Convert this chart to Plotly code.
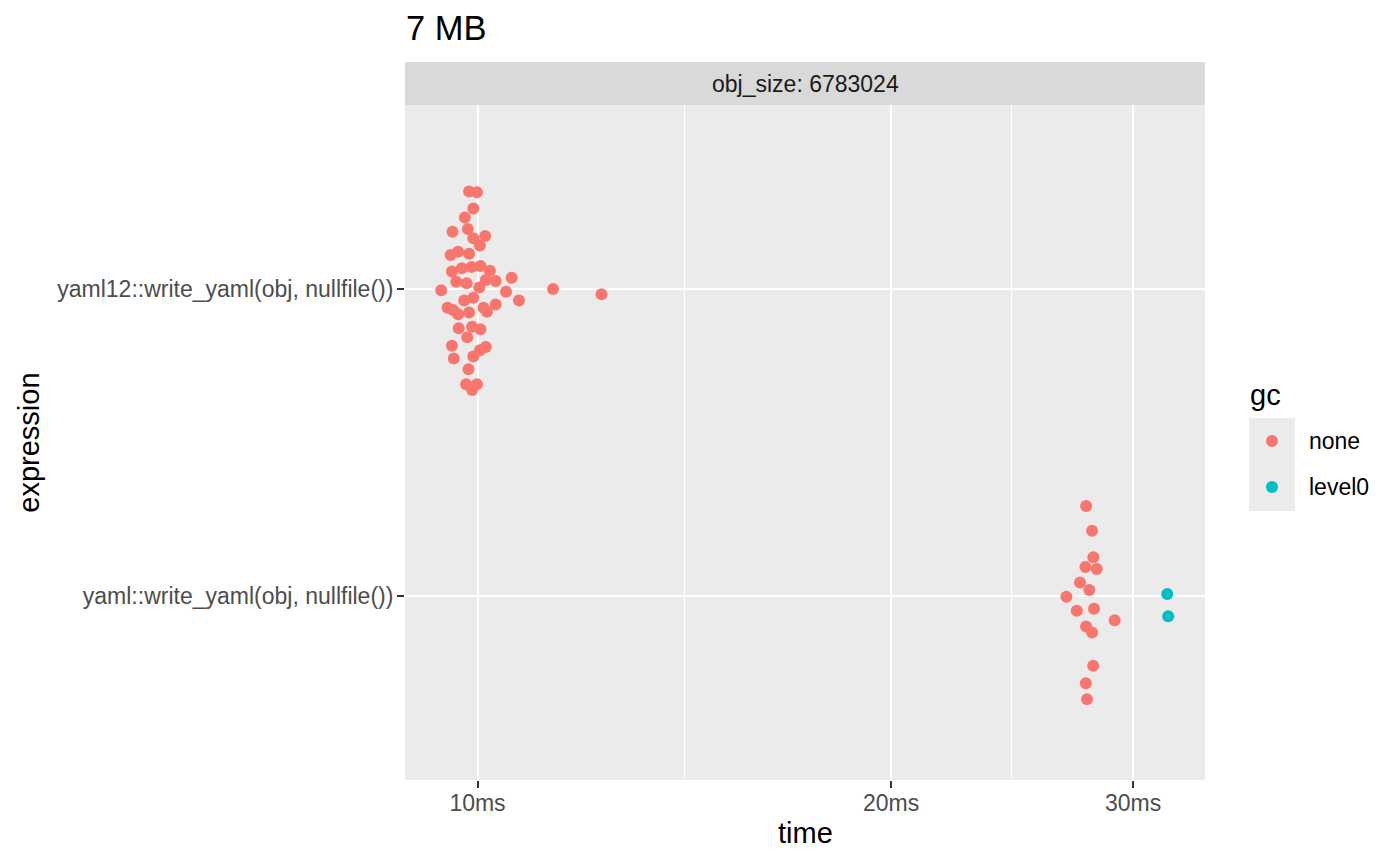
import plotly.graph_objects as go

# benchmark timings (ms) and beeswarm offsets
expressions = ["yaml::write_yaml(obj, nullfile())", "yaml12::write_yaml(obj, nullfile())"]
time_ticks = [10, 20, 30]
time_tick_labels = ["10ms", "20ms", "30ms"]
time_minor = [14.14, 24.49]

yaml12_time = [
    9.86, 9.99, 9.93, 9.79, 9.59, 9.84, 9.93, 10.13, 10.04, 9.56,
    9.68, 9.86, 9.58, 9.74, 9.90, 10.05, 10.21, 9.65, 9.82, 10.14,
    10.31, 10.59, 9.41, 10.03, 10.49, 11.35, 12.31, 9.93, 9.78, 10.72,
    10.31, 9.51, 9.60, 9.68, 9.86, 10.10, 10.16, 9.69, 9.91, 10.05,
    9.83, 9.58, 10.04, 10.14, 9.93, 9.61, 9.85, 9.81, 9.99, 9.91,
]
yaml12_offset = [
    0.318, 0.316, 0.263, 0.233, 0.187, 0.196, 0.166, 0.173, 0.142, 0.111,
    0.122, 0.115, 0.057, 0.068, 0.072, 0.075, 0.060, 0.024, 0.019, 0.030,
    0.026, 0.037, -0.004, 0.005, -0.009, 0.000, -0.017, -0.028, -0.037, -0.037,
    -0.050, -0.061, -0.068, -0.082, -0.076, -0.061, -0.074, -0.128, -0.123, -0.131,
    -0.157, -0.185, -0.199, -0.189, -0.220, -0.226, -0.261, -0.310, -0.310, -0.329,
]

yaml_none_time = [
    27.73, 28.01, 28.07, 27.70, 28.23, 27.45, 27.88, 26.83, 27.30, 28.10,
    29.09, 27.73, 28.01, 28.06, 27.72, 27.77,
]
yaml_none_offset = [
    0.293, 0.212, 0.126, 0.094, 0.088, 0.044, 0.019, -0.003, -0.048, -0.042,
    -0.079, -0.100, -0.119, -0.228, -0.285, -0.337,
]

yaml_level0_time = [31.77, 31.82]
yaml_level0_offset = [0.006, -0.066]

gc_levels = ["none", "level0"]
gc_colors = {"none": "#F8766D", "level0": "#00BFC4"}

FONT = "Liberation Sans, Arial, Helvetica, sans-serif"
SMALL = 23      # axis text / strip / legend labels
MEDIUM = 29     # axis titles, legend title
LARGE = 34.5    # plot title

# category 1 = yaml, 2 = yaml12 (bottom to top, like ggplot)
none_x = yaml12_time + yaml_none_time
none_y = [2 + o for o in yaml12_offset] + [1 + o for o in yaml_none_offset]
lvl_x = yaml_level0_time
lvl_y = [1 + o for o in yaml_level0_offset]

fig = go.Figure()
fig.add_trace(go.Scatter(
    x=none_x, y=none_y, mode="markers", name="none", showlegend=False,
    marker=dict(color=gc_colors["none"], size=12, line=dict(width=0)),
))
fig.add_trace(go.Scatter(
    x=lvl_x, y=lvl_y, mode="markers", name="level0", showlegend=False,
    marker=dict(color=gc_colors["level0"], size=12, line=dict(width=0)),
))

shapes = []
annotations = []

# facet strip
shapes.append(dict(type="rect", xref="paper", yref="paper", x0=0, x1=1, y0=1.0, y1=1.0637,
                   fillcolor="#D9D9D9", line=dict(width=0), layer="below"))
annotations.append(dict(text="obj_size: 6783024", xref="paper", yref="paper", x=0.5, y=1.0311,
                        showarrow=False, xanchor="center", yanchor="middle",
                        font=dict(family=FONT, size=SMALL, color="#1A1A1A")))

# title
annotations.append(dict(text="7 MB", xref="paper", yref="paper", x=0, y=1.114,
                        showarrow=False, xanchor="left", yanchor="middle", borderpad=0,
                        font=dict(family=FONT, size=LARGE, color="black")))

# axis titles
annotations.append(dict(text="time", xref="paper", yref="paper", x=0.5, y=-0.0785,
                        showarrow=False, xanchor="center", yanchor="middle",
                        font=dict(family=FONT, size=MEDIUM, color="black")))
annotations.append(dict(text="expression", xref="paper", yref="paper", x=-0.471, y=0.5,
                        showarrow=False, xanchor="center", yanchor="middle", textangle=-90,
                        font=dict(family=FONT, size=MEDIUM, color="black")))

# legend drawn by hand, ggplot style
annotations.append(dict(text="gc", xref="paper", yref="paper", x=1.055, y=0.5704,
                        showarrow=False, xanchor="left", yanchor="middle", borderpad=0,
                        font=dict(family=FONT, size=MEDIUM, color="black")))
shapes.append(dict(type="rect", xref="paper", yref="paper", x0=1.055, x1=1.1125,
                   y0=0.3985, y1=0.5363, fillcolor="#EBEBEB", line=dict(width=0)))
key_y = [0.5022, 0.4341]
for lvl, ky in zip(gc_levels, key_y):
    shapes.append(dict(type="circle", xref="paper", yref="paper",
                       xsizemode="pixel", ysizemode="pixel", xanchor=1.08375, yanchor=ky,
                       x0=-6, x1=6, y0=-6, y1=6,
                       fillcolor=gc_colors[lvl], line=dict(width=0)))
    annotations.append(dict(text=lvl, xref="paper", yref="paper", x=1.12875, y=ky,
                            showarrow=False, xanchor="left", yanchor="middle", borderpad=0,
                            font=dict(family=FONT, size=SMALL, color="black")))

# the page has an 8px body margin, so the margins are trimmed by that much
fig.update_layout(
    width=1400, height=865, autosize=False,
    margin=dict(l=397, r=203, t=97, b=93),
    paper_bgcolor="white", plot_bgcolor="#EBEBEB",
    font=dict(family=FONT, size=SMALL, color="#4D4D4D"),
    shapes=shapes, annotations=annotations,
    showlegend=False,
    xaxis=dict(
        type="log", range=[0.94723, 1.52948],
        tickmode="array", tickvals=time_ticks, ticktext=time_tick_labels,
        showgrid=True, gridcolor="white", gridwidth=2.2,
        minor=dict(tickmode="array", tickvals=time_minor, showgrid=True,
                   gridcolor="white", gridwidth=1.1, ticklen=0),
        ticks="outside", ticklen=7, tickwidth=2, tickcolor="#333333",
        ticklabelstandoff=-5,
        tickfont=dict(family=FONT, size=SMALL, color="#4D4D4D"),
        zeroline=False, showline=False,
    ),
    yaxis=dict(
        range=[0.4, 2.6],
        tickmode="array", tickvals=[1, 2], ticktext=expressions,
        showgrid=True, gridcolor="white", gridwidth=2.2,
        ticks="outside", ticklen=7, tickwidth=2, tickcolor="#333333",
        ticklabelstandoff=-1,
        tickfont=dict(family=FONT, size=SMALL, color="#4D4D4D"),
        zeroline=False, showline=False,
    ),
)

fig.write_html("out.html")
